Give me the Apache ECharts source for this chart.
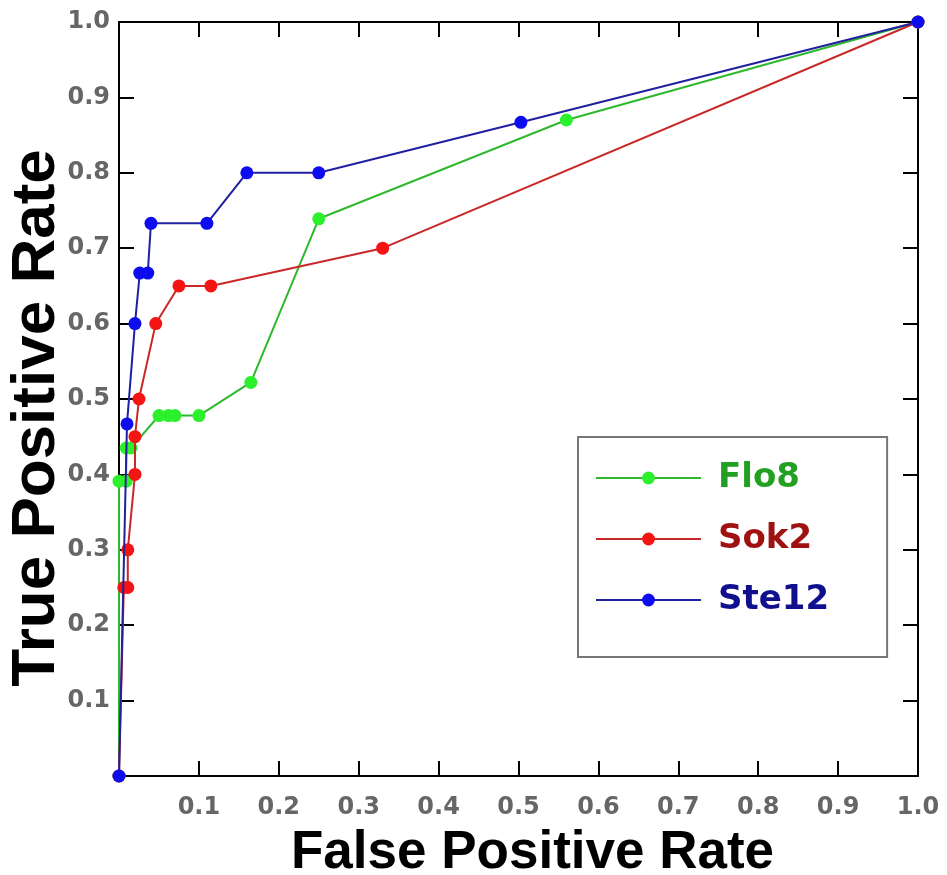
<!DOCTYPE html>
<html>
<head>
<meta charset="utf-8">
<script src="https://cdn.jsdelivr.net/npm/echarts@6/dist/echarts.min.js"></script>
<style>
  html, body { margin: 0; padding: 0; background: #fff; }
  #chart { width: 947px; height: 875px; }
</style>
</head>
<body>
<div id="chart"></div>
<script>
// ROC points
const flo8Fpr = [0, 0, 0.009, 0.009, 0.015, 0.05, 0.062, 0.07, 0.1, 0.165, 0.25, 0.56, 1]
const flo8Tpr = [0, 0.391, 0.391, 0.435, 0.435, 0.478, 0.478, 0.478, 0.478, 0.522, 0.739, 0.870, 1]

const sok2Fpr = [0, 0.006, 0.011, 0.011, 0.02, 0.02, 0.025, 0.046, 0.075, 0.115, 0.33, 1]
const sok2Tpr = [0, 0.25, 0.25, 0.30, 0.40, 0.45, 0.50, 0.60, 0.65, 0.65, 0.70, 1]

const ste12Fpr = [0, 0.01, 0.02, 0.026, 0.036, 0.04, 0.11, 0.16, 0.25, 0.503, 1]
const ste12Tpr = [0, 0.467, 0.6, 0.667, 0.667, 0.733, 0.733, 0.8, 0.8, 0.867, 1]

const seriesNames = ['Flo8', 'Sok2', 'Ste12']

const zip = (xs, ys) => xs.map((x, i) => [x, ys[i]])
const tickFmt = (v) => (v === 0 ? '' : v.toFixed(1))

const chart = echarts.init(document.getElementById('chart'))

const baseAxis = {
  type: 'value'
  , min: 0
  , max: 1
  , interval: 0.1
  , splitLine: { show: false }
  , axisLine: { show: true, onZero: false, lineStyle: { color: '#000', width: 2 } }
  , axisTick: { show: true, inside: true, length: 15, lineStyle: { color: '#000', width: 2 } }
}
const tickLabel = {
  fontFamily: 'DejaVu Sans'
  , fontWeight: 'bold'
  , fontSize: 24
  , color: '#666'
  , formatter: tickFmt
}

const mkSeries = (name, xs, ys, lineColor, dotColor, z) => ({
  name: name
  , type: 'line'
  , data: zip(xs, ys)
  , symbol: 'circle'
  , symbolSize: 13
  , clip: false
  , z: z
  , lineStyle: { color: lineColor, width: 2 }
  , itemStyle: { color: dotColor }
  , emphasis: { disabled: true }
})

const option = {
  animation: false
  , backgroundColor: '#fff'
  , grid: { left: 119, right: 29, top: 22, bottom: 99, outerBoundsMode: 'none', containLabel: false }
  // y title placed by hand, the axis name kept snapping to the edge
  , graphic: [{
    type: 'text'
    , x: 37
    , y: 418
    , rotation: Math.PI / 2
    , style: {
      text: 'True Positive Rate'
      , font: 'bold 62px "Liberation Sans"'
      , fill: '#000'
      , align: 'center'
      , verticalAlign: 'middle'
    }
  }]
  , legend: {
    orient: 'vertical'
    , left: 578
    , top: 437
    , padding: [21, 58, 37, 17]
    , itemGap: 21
    , itemWidth: 105
    , itemHeight: 16
    , borderColor: '#777'
    , borderWidth: 2
    , textStyle: {
      fontFamily: 'DejaVu Sans'
      , fontWeight: 'bold'
      , fontSize: 34
      , lineHeight: 40
      , padding: [0, 0, 0, 12]
    }
    , data: [
      { name: seriesNames[0], textStyle: { color: '#22a022' } }
      , { name: seriesNames[1], textStyle: { color: '#a01212' } }
      , { name: seriesNames[2], textStyle: { color: '#10108f' } }
    ]
  }
  , xAxis: [
    Object.assign({}, baseAxis, {
      position: 'bottom'
      , name: 'False Positive Rate'
      , nameLocation: 'middle'
      , nameGap: 51
      , nameTextStyle: {
        fontFamily: 'Liberation Sans'
        , fontWeight: 'bold'
        , fontSize: 53
        , color: '#000'
        , padding: [0, 0, 0, 28]
      }
      , axisLabel: Object.assign({ margin: 20 }, tickLabel)
    })
    , Object.assign({}, baseAxis, { position: 'top', axisLabel: { show: false } })
  ]
  , yAxis: [
    Object.assign({}, baseAxis, {
      position: 'left'
      , axisLabel: Object.assign({ margin: 9 }, tickLabel)
    })
    , Object.assign({}, baseAxis, { position: 'right', axisLabel: { show: false } })
  ]
  , series: [
    mkSeries(seriesNames[0], flo8Fpr, flo8Tpr, '#2db82d', '#2cf02c', 2)
    , mkSeries(seriesNames[1], sok2Fpr, sok2Tpr, '#c82828', '#f51414', 3)
    , mkSeries(seriesNames[2], ste12Fpr, ste12Tpr, '#2020a0', '#0c0cee', 4)
  ]
}

chart.setOption(option)
</script>
</body>
</html>
